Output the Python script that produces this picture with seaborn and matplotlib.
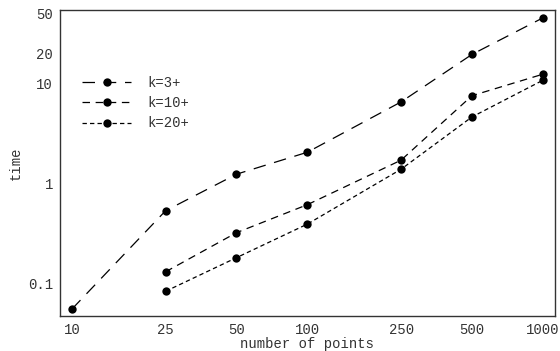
import pandas as pd
import matplotlib.pyplot as plt
import seaborn as sns
from matplotlib.lines import Line2D

# ===========================
# Data
# ===========================
n_points = [10, 25, 50, 100, 250, 500, 1000]
time_k3 = [0.055, 0.53, 1.23, 2.04, 6.5, 19.4, 45.0]
time_k10 = [None, 0.13, 0.32, 0.61, 1.7, 7.5, 12.3]
time_k20 = [None, 0.083, 0.18, 0.39, 1.38, 4.6, 10.7]
series_names = ["k=3+", "k=10+", "k=20+"]

x_ticks = [10, 25, 50, 100, 250, 500, 1000]
y_ticks = [0.1, 1, 10, 20, 50]
y_tick_labels = ["0.1", "1", "10", "20", "50"]

rows = []
for name, vals in zip(series_names, [time_k3, time_k10, time_k20]):
    for n, t in zip(n_points, vals):
        if t is not None:
            rows.append({"n": n, "time": t, "series": name})
df = pd.DataFrame(rows)

# ===========================
# Style
# ===========================
sns.set_style("white")
plt.rcParams["font.family"] = ["Liberation Mono", "DejaVu Sans Mono"]
plt.rcParams["font.size"] = 10

dash_map = {"k=3+": (10, 7), "k=10+": (6, 4.5), "k=20+": (3.5, 2.5)}
MS = 6

fig = plt.figure(figsize=(5.6, 3.51), dpi=100)
ax = fig.add_axes([0.107, 0.0997, 0.884, 0.872])

sns.lineplot(
    data=df, x="n", y="time", style="series", dashes=dash_map,
    markers={k: "o" for k in series_names}, color="black",
    markersize=MS, linewidth=0.9, markeredgewidth=0,
    legend=False, ax=ax, sort=False,
)

ax.set_xscale("log")
ax.set_yscale("log")
ax.set_xlim(8.9, 1125)
ax.set_ylim(0.047, 54)
ax.set_xticks(x_ticks)
ax.set_xticklabels([str(v) for v in x_ticks])
ax.set_yticks(y_ticks)
ax.set_yticklabels(y_tick_labels)
ax.minorticks_off()
ax.tick_params(direction="in", length=4, width=0.8, color="#444444",
               labelcolor="#333333", top=False, right=False, pad=5)
for side in ["left", "bottom", "right", "top"]:
    ax.spines[side].set_visible(True)
    ax.spines[side].set_color("#333333")
    ax.spines[side].set_linewidth(1.0)

ax.set_xlabel("number of points", color="#333333", labelpad=0)
ax.set_ylabel("time", color="#333333", labelpad=4)

handles = [
    Line2D([], [], color="black", marker="o", markersize=MS, linewidth=0.9,
           markeredgewidth=0, dashes=dash_map[name])
    for name in series_names
]
ax.legend(handles, series_names, loc="upper left", bbox_to_anchor=(0.02, 0.825),
          frameon=False, handlelength=3.5, labelspacing=0.45, fontsize=10,
          handletextpad=1.2, labelcolor="#333333")

plt.savefig("out.png", dpi=100)
plt.close()
